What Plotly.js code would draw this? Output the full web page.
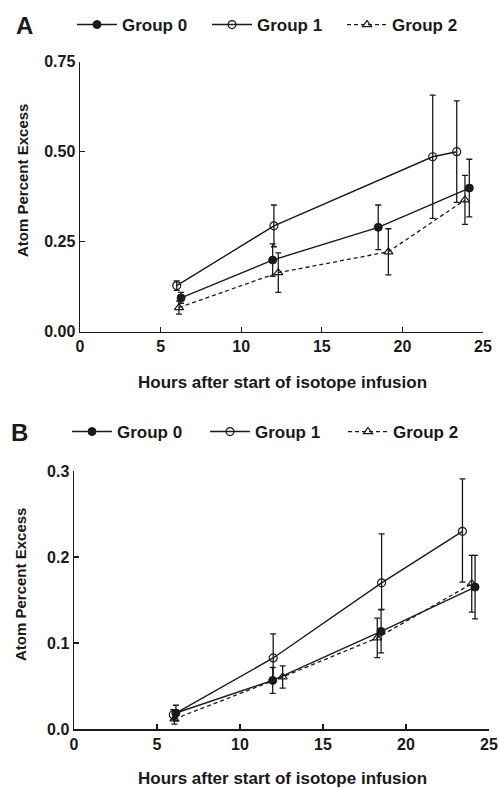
<!DOCTYPE html>
<html>
<head>
<meta charset="utf-8">
<script src="https://cdn.plot.ly/plotly-3.0.1.min.js"></script>
<style>html,body{margin:0;padding:0;background:#fff;}#chart{width:499px;height:788px;}</style>
</head>
<body>
<div id="chart"></div>
<script>
// ---- Data ----
const seriesNames = ["Group 0", "Group 1", "Group 2"];
const xTicks = [0, 5, 10, 15, 20, 25];
const yTicksA = [0, 0.25, 0.5, 0.75];
const yTicksB = [0, 0.1, 0.2, 0.3];

// Panel A
const hoursA0 = [6.27, 11.95, 18.5, 24.15];
const valA0   = [0.094, 0.199, 0.290, 0.399];
const errA0   = [0.015, 0.045, 0.062, 0.080];

const hoursA1 = [6.0, 12.03, 21.88, 23.37];
const valA1   = [0.128, 0.294, 0.486, 0.500];
const errA1   = [0.013, 0.058, 0.171, 0.141];

const hoursA2 = [6.14, 12.3, 19.13, 23.88];
const valA2   = [0.067, 0.164, 0.222, 0.366];
const errA2   = [0.018, 0.055, 0.064, 0.068];

// Panel B
const hoursB0 = [6.14, 11.97, 18.5, 24.16];
const valB0   = [0.0186, 0.0565, 0.1135, 0.165];
const errB0   = [0.009, 0.015, 0.025, 0.037];

const hoursB1 = [5.98, 12.0, 18.53, 23.4];
const valB1   = [0.0166, 0.0826, 0.170, 0.2298];
const errB1Plus  = [0.006, 0.028, 0.057, 0.061];
const errB1Minus = [0.006, 0.028, 0.031, 0.059];

const hoursB2 = [6.05, 12.57, 18.27, 23.96];
const valB2   = [0.0116, 0.0605, 0.106, 0.169];
const errB2   = [0.006, 0.013, 0.023, 0.033];

// ---- Styling ----
const FONT = "Liberation Sans, Arial, Helvetica, sans-serif";
const INK = "#1a1a1a";
const markerStyles = [
  {symbol: "circle", size: 8, color: INK, line: {color: INK, width: 1}},
  {symbol: "circle-open", size: 8, color: INK, line: {color: INK, width: 1.2}},
  {symbol: "triangle-up-open", size: 8, color: INK, line: {color: INK, width: 1.2}}
];
const lineStyles = [
  {color: INK, width: 1.4},
  {color: INK, width: 1.4},
  {color: INK, width: 1.3, dash: "4px,3px"}
];

function errBar(plus, minus) {
  const e = {type: "data", array: plus, visible: true, color: INK, thickness: 1.3, width: 3};
  if (minus) { e.symmetric = false; e.arrayminus = minus; }
  return e;
}

function trace(x, y, i, xa, ya, legend, eplus, eminus) {
  return {
    type: "scatter", mode: "lines+markers",
    x: x, y: y, name: seriesNames[i],
    xaxis: xa, yaxis: ya, legend: legend,
    line: lineStyles[i], marker: markerStyles[i],
    error_y: errBar(eplus, eminus),
    cliponaxis: false, showlegend: true
  };
}

const data = [
  trace(hoursA0, valA0, 0, "x", "y", "legend", errA0),
  trace(hoursA1, valA1, 1, "x", "y", "legend", errA1),
  trace(hoursA2, valA2, 2, "x", "y", "legend", errA2),
  trace(hoursB0, valB0, 0, "x2", "y2", "legend2", errB0),
  trace(hoursB1, valB1, 1, "x2", "y2", "legend2", errB1Plus, errB1Minus),
  trace(hoursB2, valB2, 2, "x2", "y2", "legend2", errB2)
];

const W = 499, H = 788;
const tickFont = {family: FONT, size: 16, color: INK, weight: "bold"};

function xAxis(domain, anchor) {
  return {
    domain: domain, anchor: anchor, range: [0, 25], tickvals: xTicks,
    ticks: "inside", ticklen: 5, tickwidth: 1.2, tickcolor: INK,
    showline: true, linewidth: 1.5, linecolor: INK, automargin: false,
    showgrid: false, zeroline: false, tickfont: tickFont, fixedrange: true
  };
}
function yAxis(domain, anchor, range, vals, fmt) {
  return {
    domain: domain, anchor: anchor, range: range, tickvals: vals, tickformat: fmt,
    ticks: "inside", ticklen: 5, tickwidth: 1.2, tickcolor: INK,
    showline: true, linewidth: 1.5, linecolor: INK, automargin: false,
    showgrid: false, zeroline: false, tickfont: tickFont, fixedrange: true
  };
}

const legendBase = {
  orientation: "h", xanchor: "left", yanchor: "middle",
  entrywidth: 80, entrywidthmode: "pixels", itemwidth: 40,
  font: {family: FONT, size: 17, color: INK, weight: "bold"},
  bgcolor: "rgba(0,0,0,0)", itemclick: false, itemdoubleclick: false
};

const layout = {
  width: W, height: H,
  margin: {l: 0, r: 0, t: 0, b: 0},
  paper_bgcolor: "#fff", plot_bgcolor: "#fff",
  font: {family: FONT, color: INK},
  showlegend: true,
  xaxis: xAxis([80 / W, 483 / W], "y"),
  yaxis: yAxis([1 - 331.7 / H, 1 - 61.7 / H], "x", [0, 0.75], yTicksA, ".2f"),
  xaxis2: xAxis([74 / W, 489 / W], "y2"),
  yaxis2: yAxis([1 - 729 / H, 1 - 471 / H], "x2", [0, 0.3], yTicksB, ".1f"),
  legend: Object.assign({}, legendBase, {x: 72 / W, y: 1 - 25 / H}),
  legend2: Object.assign({}, legendBase, {x: 67 / W, y: 1 - 432 / H, entrywidth: 83}),
  annotations: [
    {text: "A", x: 14 / W, y: 1 - 25 / H, xref: "paper", yref: "paper", xanchor: "left", yanchor: "middle",
     showarrow: false, font: {family: FONT, size: 24, color: INK, weight: "bold"}},
    {text: "B", x: 9 / W, y: 1 - 432 / H, xref: "paper", yref: "paper", xanchor: "left", yanchor: "middle",
     showarrow: false, font: {family: FONT, size: 24, color: INK, weight: "bold"}},
    {text: "Atom Percent Excess", x: 23 / W, y: 1 - 181 / H, xref: "paper", yref: "paper",
     xanchor: "center", yanchor: "middle", textangle: -90, showarrow: false,
     font: {family: FONT, size: 15, color: INK, weight: "bold"}},
    {text: "Atom Percent Excess", x: 20 / W, y: 1 - 585 / H, xref: "paper", yref: "paper",
     xanchor: "center", yanchor: "middle", textangle: -90, showarrow: false,
     font: {family: FONT, size: 15, color: INK, weight: "bold"}},
    {text: "Hours after start of isotope infusion", x: 282 / W, y: 1 - 382 / H, xref: "paper", yref: "paper",
     xanchor: "center", yanchor: "middle", showarrow: false,
     font: {family: FONT, size: 17, color: INK, weight: "bold"}},
    {text: "Hours after start of isotope infusion", x: 282 / W, y: 1 - 778 / H, xref: "paper", yref: "paper",
     xanchor: "center", yanchor: "middle", showarrow: false,
     font: {family: FONT, size: 17, color: INK, weight: "bold"}}
  ]
};

Plotly.newPlot("chart", data, layout, {staticPlot: true, displayModeBar: false});
</script>
</body>
</html>
